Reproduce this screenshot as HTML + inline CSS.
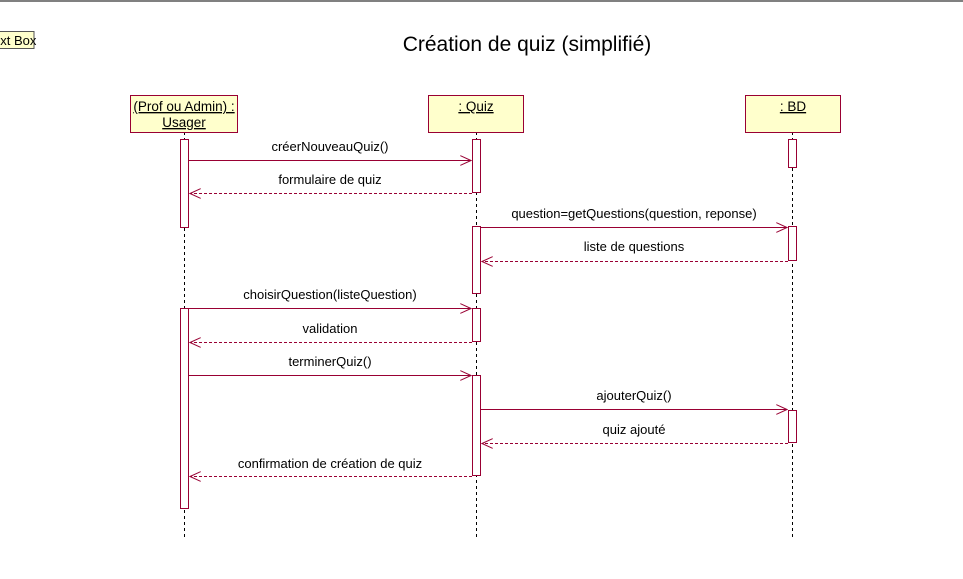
<!DOCTYPE html>
<html><head><meta charset="utf-8"><style>
html,body{margin:0;padding:0;background:#fff;width:963px;height:579px;overflow:hidden}
svg text{font-family:"Liberation Sans",Arial,sans-serif;fill:#000}
</style></head><body>
<svg width="963" height="579" xmlns="http://www.w3.org/2000/svg">
<defs>
<marker id="o" markerWidth="12" markerHeight="10" refX="11" refY="5" orient="auto" markerUnits="userSpaceOnUse">
<path d="M0,0 L11,5 L0,10" fill="none" stroke="#990033" stroke-width="1"/></marker>
</defs>
<rect x="0" y="0" width="963" height="2" fill="#808080"/>
<rect x="-20" y="31.5" width="54" height="17" fill="#ffffcc" stroke="#555"/>
<text x="-7" y="45" font-size="13">ext Box</text>
<text x="527" y="51" font-size="21" text-anchor="middle">Création de quiz (simplifié)</text>
<g stroke="#000" stroke-dasharray="3,3" stroke-width="1">
<line x1="184.5" y1="132" x2="184.5" y2="538"/>
<line x1="476.5" y1="132" x2="476.5" y2="538"/>
<line x1="792.5" y1="132" x2="792.5" y2="538"/>
</g>
<g fill="#ffffcc" stroke="#990033" stroke-width="1">
<rect x="130.5" y="95.5" width="107" height="37"/>
<rect x="428.5" y="95.5" width="95" height="37"/>
<rect x="745.5" y="95.5" width="95" height="37"/>
</g>
<g font-size="13.5" text-anchor="middle" text-decoration="underline">
<text x="184" y="111">(Prof ou Admin) :</text>
<text x="184" y="127">Usager</text>
<text x="476" y="111">: Quiz</text>
<text x="793" y="111">: BD</text>
</g>
<g fill="#fff" stroke="#990033" stroke-width="1">
<rect x="180.5" y="139.5" width="8" height="88"/>
<rect x="180.5" y="308.5" width="8" height="200"/>
<rect x="472.5" y="139.5" width="8" height="53"/>
<rect x="472.5" y="226.5" width="8" height="67"/>
<rect x="472.5" y="308.5" width="8" height="33"/>
<rect x="472.5" y="375.5" width="8" height="100"/>
<rect x="788.5" y="139.5" width="8" height="28"/>
<rect x="788.5" y="226.5" width="8" height="34"/>
<rect x="788.5" y="410.5" width="8" height="32"/>
</g>
<g stroke="#990033" stroke-width="1" fill="none" marker-end="url(#o)">
<line x1="189" y1="160.5" x2="471" y2="160.5"/>
<line x1="472" y1="193.5" x2="190" y2="193.5" stroke-dasharray="3,2"/>
<line x1="481" y1="227.5" x2="787" y2="227.5"/>
<line x1="788" y1="261.5" x2="482" y2="261.5" stroke-dasharray="3,2"/>
<line x1="189" y1="308.5" x2="471" y2="308.5"/>
<line x1="472" y1="342.5" x2="190" y2="342.5" stroke-dasharray="3,2"/>
<line x1="189" y1="375.5" x2="471" y2="375.5"/>
<line x1="481" y1="409.5" x2="787" y2="409.5"/>
<line x1="788" y1="443.5" x2="482" y2="443.5" stroke-dasharray="3,2"/>
<line x1="472" y1="476.5" x2="190" y2="476.5" stroke-dasharray="3,2"/>
</g>
<g font-size="13" text-anchor="middle">
<text x="330" y="151">créerNouveauQuiz()</text>
<text x="330" y="184">formulaire de quiz</text>
<text x="634" y="218">question=getQuestions(question, reponse)</text>
<text x="634" y="251">liste de questions</text>
<text x="330" y="299">choisirQuestion(listeQuestion)</text>
<text x="330" y="333">validation</text>
<text x="330" y="366">terminerQuiz()</text>
<text x="634" y="400">ajouterQuiz()</text>
<text x="634" y="434">quiz ajouté</text>
<text x="330" y="468">confirmation de création de quiz</text>
</g>
</svg>
</body></html>
